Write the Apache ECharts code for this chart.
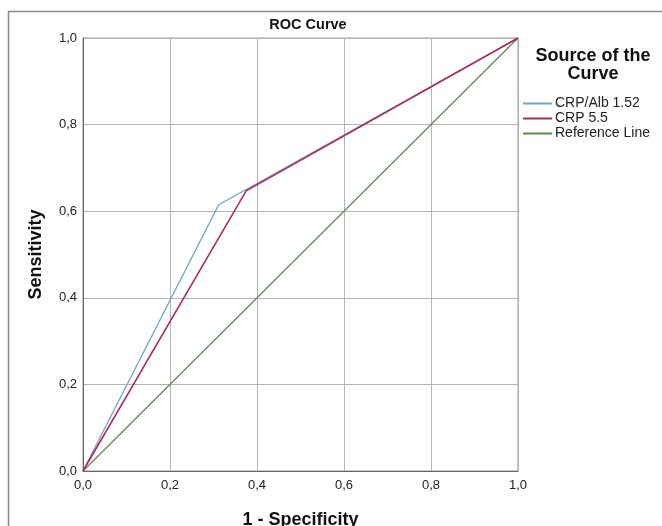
<!DOCTYPE html>
<html><head><meta charset="utf-8">
<script src="https://cdn.jsdelivr.net/npm/echarts@6/dist/echarts.min.js"></script>
<style>html,body{margin:0;padding:0;background:#fff}#c{width:662px;height:526px}</style>
</head><body><div id="c"></div>
<script>
const seriesNames = ['CRP/Alb 1.52', 'CRP 5.5', 'Reference Line'];
const crpAlbX = [0, 0.312, 1];
const crpAlbY = [0, 0.615, 1];
const crpX = [0, 0.375, 1];
const crpY = [0, 0.647, 1];
const refX = [0, 1];
const refY = [0, 1];
const colors = ['#6aa5cc', '#b3235a', '#5b8a4b'];
const F = 'Liberation Sans, Arial, sans-serif';
const zip = (a, b) => a.map((v, i) => [v, b[i]]);
const fmt = v => v.toFixed(1).replace('.', ',');
const chart = echarts.init(document.getElementById('c'));
chart.setOption({
  animation: false,
  graphic: [{type: 'rect', shape: {x: 8.5, y: 11.5, width: 700, height: 600}, style: {fill: 'none', stroke: '#8a8a8a', lineWidth: 1.5}, z: -1}],
  title: [
    {text: 'ROC Curve', left: 303, top: 12, textAlign: 'center', textStyle: {fontFamily: F, fontSize: 14.5, fontWeight: 'bold', color: '#111'}},
    {text: 'Source of the\nCurve', left: 588, top: 42, textAlign: 'center', textStyle: {fontFamily: F, fontSize: 18, fontWeight: 'bold', color: '#111', lineHeight: 18}}
  ],
  legend: {
    orient: 'vertical', left: 523, top: 96, padding: 0, itemWidth: 29, itemHeight: 2, itemGap: 0,
    icon: 'rect', data: seriesNames,
    textStyle: {fontFamily: F, fontSize: 14, color: '#222', lineHeight: 15, padding: [0, 0, 0, -2]}
  },
  grid: {left: 83, top: 38, right: 144, bottom: 55, outerBoundsMode: 'none', containLabel: false, show: true, borderColor: '#999', borderWidth: 1},
  xAxis: {
    type: 'value', min: 0, max: 1, interval: 0.2,
    name: '1 - Specificity', nameLocation: 'middle', nameGap: 40,
    nameTextStyle: {fontFamily: F, fontSize: 18, fontWeight: 'bold', color: '#111'},
    axisLine: {show: true, lineStyle: {color: '#666'}}, axisTick: {show: false},
    axisLabel: {formatter: fmt, fontFamily: F, fontSize: 13, color: '#222', margin: 8},
    splitLine: {lineStyle: {color: '#b5b5b5'}}
  },
  yAxis: {
    type: 'value', min: 0, max: 1, interval: 0.2,
    name: 'Sensitivity', nameLocation: 'middle', nameGap: 38,
    nameTextStyle: {fontFamily: F, fontSize: 18, fontWeight: 'bold', color: '#111'},
    axisLine: {show: true, lineStyle: {color: '#666'}}, axisTick: {show: false},
    axisLabel: {formatter: fmt, fontFamily: F, fontSize: 13, color: '#222', margin: 6},
    splitLine: {lineStyle: {color: '#b5b5b5'}}
  },
  series: [
    {name: seriesNames[0], type: 'line', data: zip(crpAlbX, crpAlbY), symbol: 'none', lineStyle: {width: 1.3, color: colors[0]}, itemStyle: {color: colors[0]}, z: 2},
    {name: seriesNames[1], type: 'line', data: zip(crpX, crpY), symbol: 'none', lineStyle: {width: 1.5, color: colors[1]}, itemStyle: {color: colors[1]}, z: 3},
    {name: seriesNames[2], type: 'line', data: zip(refX, refY), symbol: 'none', lineStyle: {width: 1.2, color: colors[2]}, itemStyle: {color: colors[2]}, z: 1}
  ]
});
</script></body></html>
